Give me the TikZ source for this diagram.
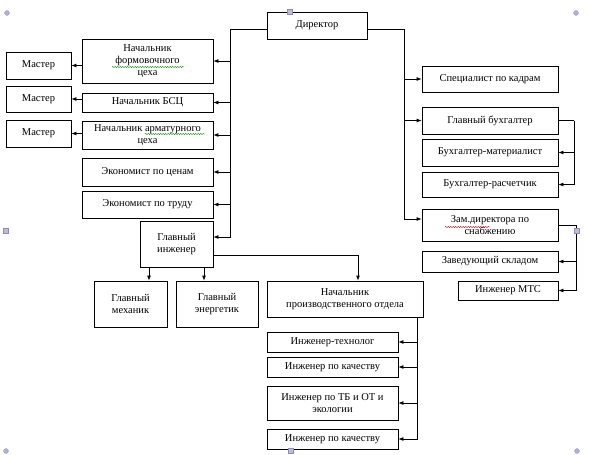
\documentclass[tikz,border=0pt]{standalone}
\usepackage{fontspec}
\setmainfont{Liberation Serif}
\usetikzlibrary{arrows.meta,decorations.pathmorphing}
\begin{document}
\begin{tikzpicture}[x=1pt,y=-1pt,
  box/.style={draw,line width=0.8pt,rectangle,inner sep=1pt,align=center,
    font=\fontsize{10.5}{12}\selectfont},
  ln/.style={line width=0.8pt},
  arr/.style={line width=0.8pt,-{Latex[length=5pt,width=4pt]}},
  squig/.style={line width=0.4pt,decorate,decoration={snake,amplitude=0.6pt,segment length=2.5pt}},
  hcirc/.style={circle,fill=gray!60!blue!45,draw=gray!70!blue!60,line width=0.3pt,inner sep=0pt,minimum size=5pt},
  hsq/.style={rectangle,fill=blue!15!gray!45,draw=blue!30!gray!70,line width=0.4pt,inner sep=0pt,minimum size=5pt}]
\useasboundingbox (0,0) rectangle (589,455);
% boxes
\node[box,minimum width=100pt,minimum height=27pt] (dir) at (317,25.5) {Директор};
\node[box,minimum width=131pt,minimum height=44pt] (f1) at (147.5,61) {Начальник\\формовочного\\цеха};
\node[box,minimum width=65pt,minimum height=27pt] (m1) at (38.5,65.5) {Мастер};
\node[box,minimum width=65pt,minimum height=26pt] (m2) at (38.5,99) {Мастер};
\node[box,minimum width=131pt,minimum height=19pt] (bsc) at (147.5,102.5) {Начальник БСЦ};
\node[box,minimum width=65pt,minimum height=27pt] (m3) at (38.5,133.5) {Мастер};
\node[box,minimum width=131pt,minimum height=28pt] (arm) at (147.5,135) {Начальник арматурного\\цеха};
\node[box,minimum width=131pt,minimum height=28pt] (ec1) at (147.5,172) {Экономист по ценам};
\node[box,minimum width=131pt,minimum height=27pt] (ec2) at (147.5,204.5) {Экономист по труду};
\node[box,minimum width=73pt,minimum height=46pt] (gi) at (176.5,244) {Главный\\инженер};
\node[box,minimum width=73pt,minimum height=46pt] (gm) at (130.5,304) {Главный\\механик};
\node[box,minimum width=82pt,minimum height=46pt] (ge) at (217,304) {Главный\\энергетик};
\node[box,minimum width=156pt,minimum height=36pt] (npo) at (345,299) {Начальник\\производственного отдела};
\node[box,minimum width=131pt,minimum height=20pt] (it) at (332.5,342) {Инженер-технолог};
\node[box,minimum width=131pt,minimum height=20pt] (ik1) at (332.5,367) {Инженер по качеству};
\node[box,minimum width=131pt,minimum height=34pt] (itb) at (332.5,403) {Инженер по ТБ и ОТ и\\экологии};
\node[box,minimum width=131pt,minimum height=20pt] (ik2) at (332.5,439) {Инженер по качеству};
\node[box,minimum width=136pt,minimum height=26pt] (sk) at (490,79) {Специалист по кадрам};
\node[box,minimum width=136pt,minimum height=27pt] (gb) at (490,120.5) {Главный бухгалтер};
\node[box,minimum width=136pt,minimum height=27pt] (bm) at (490,152.5) {Бухгалтер-материалист};
\node[box,minimum width=136pt,minimum height=25pt] (br) at (490,184.5) {Бухгалтер-расчетчик};
\node[box,minimum width=136pt,minimum height=32pt] (zd) at (490,225) {Зам.директора по\\снабжению};
\node[box,minimum width=136pt,minimum height=21pt] (zs) at (490,261.5) {Заведующий складом};
\node[box,minimum width=100pt,minimum height=19pt] (mts) at (508,290.5) {Инженер МТС};
% trunk coordinates
\coordinate (L) at (230,29);
\coordinate (R) at (404,29);
% left trunk
\draw[arr] ([yshift=-3.5pt]dir.west) -- (L) |- ([yshift=7pt]gi.east);
\draw[arr] (L |- f1.east) -- (f1.east);
\draw[arr] (L |- bsc.east) -- (bsc.east);
\draw[arr] (L |- arm.east) -- (arm.east);
\draw[arr] (L |- ec1.east) -- (ec1.east);
\draw[arr] (L |- ec2.east) -- (ec2.east);
% masters
\draw[arr] (f1.west |- m1.east) -- (m1.east);
\draw[arr] (bsc.west |- m2.east) -- (m2.east);
\draw[arr] (arm.west |- m3.east) -- (m3.east);
% right trunk
\draw[arr] ([yshift=-3.5pt]dir.east) -- (R) |- ([yshift=6pt]zd.west);
\draw[arr] (R |- sk.west) -- (sk.west);
\draw[arr] (R |- gb.west) -- (gb.west);
% accountant bracket
\draw[ln] (gb.east) -- ++(16,0) coordinate (gbR);
\draw[arr] (gbR) |- (br.east);
\draw[arr] (gbR |- bm.east) -- (bm.east);
% supply bracket
\draw[ln] (zd.east) -- ++(18,0) coordinate (zdR);
\draw[arr] (zdR) |- (mts.east);
\draw[arr] (zdR |- zs.east) -- (zs.east);
% chief engineer
\draw[arr] ([xshift=-27.5pt]gi.south) -- ([xshift=-27.5pt]gi.south |- gm.north);
\draw[arr] ([xshift=27.5pt]gi.south) -- ([xshift=27.5pt]gi.south |- ge.north);
\draw[arr] ([yshift=-11pt]gi.east) -| ([xshift=13pt]npo.north);
% production dept
\coordinate (P) at ([xshift=72pt]npo.south);
\draw[arr] (P) |- (ik2.east);
\draw[arr] (P |- it.east) -- (it.east);
\draw[arr] (P |- ik1.east) -- (ik1.east);
\draw[arr] (P |- itb.east) -- (itb.east);
% spell-check underlines
\draw[squig,green!55!black] (112,67) -- (184,67);
\draw[squig,green!55!black] (145,134) -- (205,134);
\draw[squig,red!80!black] (445,227) -- (490,227);
% selection handles
\node[hcirc] (h1) at (7,13) {};
\node[hcirc] (h2) at (576,13) {};
\node[hcirc] (h3) at (6,451) {};
\node[hcirc] (h4) at (577,451) {};
\node[hsq] (h5) at (290,12) {};
\node[hsq] (h6) at (6,231) {};
\node[hsq] (h7) at (577,231) {};
\node[hsq] (h8) at (291,451) {};
\end{tikzpicture}
\end{document}
